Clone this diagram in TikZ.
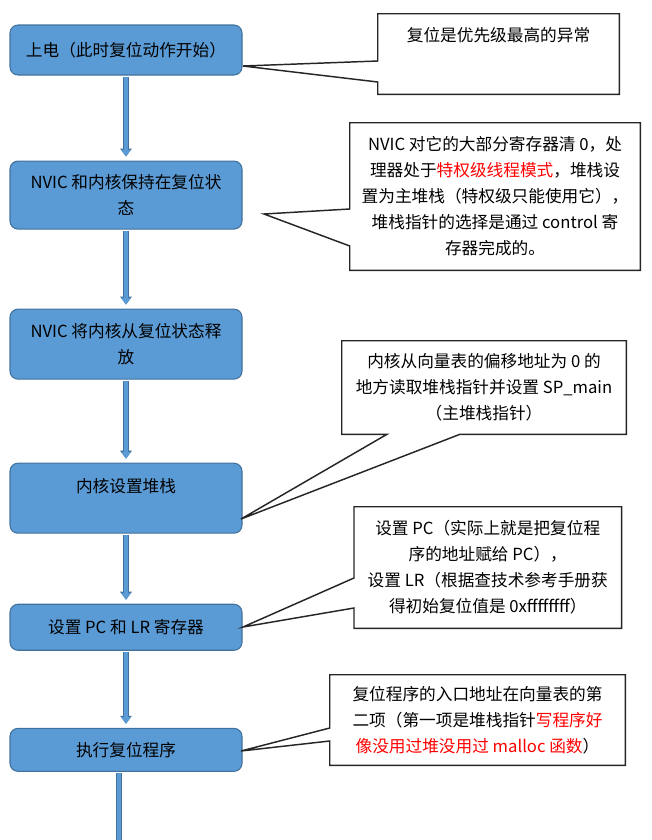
\documentclass[tikz,border=0pt]{standalone}
\usepackage{fontspec}
\setmainfont{Noto Sans CJK SC}
\usetikzlibrary{
  arrows.meta,
  calc,
  positioning
}
\definecolor{boxfill}{HTML}{5B9BD5}
\definecolor{boxedge}{HTML}{41719C}

\begin{document}
\begin{tikzpicture}[
  x=0.75pt, y=-0.75pt,
  font=\fontsize{12.5}{19.5}\selectfont,
  stage/.style={draw=boxedge, fill=boxfill, line width=0.8pt, rounded corners=6pt, align=center, minimum width=174pt},
  note/.style={align=center, inner sep=0pt},
  pointer/.style={draw=black!85, line width=1.1pt, line join=miter},
  flow/.style={draw=boxfill, line width=2.4pt, shorten <=1pt, shorten >=3pt, -{Triangle[length=5pt,width=7pt]},
    preaction={draw=boxedge, line width=3.9pt, shorten <=1pt, shorten >=3pt, -{Triangle[length=6pt,width=8.5pt]}}}
]
\useasboundingbox (0,0) rectangle (652,840);

\node[stage, minimum height=37.5pt] (power) at (126,50) {上电（此时复位动作开始）};
\node[stage, minimum height=51pt, below=63.75pt of power] (hold) {NVIC 和内核保持在复位状\\态};
\node[stage, minimum height=52.5pt, below=59.25pt of hold] (release) {NVIC 将内核从复位状态释\\放};
\node[stage, minimum height=52.5pt, below=62.25pt of release] (stack) {内核设置堆栈\\\mbox{}};
\node[stage, minimum height=34.5pt, below=52.5pt of stack] (regs) {设置 PC 和 LR 寄存器};
\node[stage, minimum height=32.25pt, below=57.75pt of regs] (run) {执行复位程序};
\coordinate (exit) at (119,880);

\draw[flow] (power) -- (hold);
\draw[flow] (hold) -- (release);
\draw[flow] (release) -- (stack);
\draw[flow] (stack) -- (regs);
\draw[flow] (regs) -- (run);
\draw[flow] (run.south -| exit) -- (exit);

\node[note, minimum width=180.75pt, minimum height=60pt, text depth=29.5pt] (prio) at (498.5,54) {复位是优先级最高的异常};
\node[note, minimum width=217.5pt, minimum height=110.25pt] (clear) at (495,196.5)
  {NVIC 对它的大部分寄存器清 0，处\\理器处于\textcolor{red}{特权级线程模式}，堆栈设\\置为主堆栈（特权级只能使用它），\\堆栈指针的选择是通过 control 寄\\存器完成的。};
\node[note, minimum width=213pt, minimum height=69.75pt] (sp) at (484,387.5)
  {内核从向量表的偏移地址为 0 的\\地方读取堆栈指针并设置 SP\_main\\（主堆栈指针）};
\node[note, minimum width=200.25pt, minimum height=90.75pt] (pclr) at (487.75,567.5)
  {设置 PC（实际上就是把复位程\\序的地址赋给 PC），\\设置 LR（根据查技术参考手册获\\得初始复位值是 0xffffffff）};
\node[note, minimum width=221.25pt, minimum height=67.5pt] (entry) at (477.5,720)
  {复位程序的入口地址在向量表的第\\二项（第一项是堆栈指针\textcolor{red}{写程序好}\\\textcolor{red}{像没用过堆没用过 malloc 函数}）};

\coordinate (prio-tip) at (243,66);
\coordinate (clear-tip) at (264,214);
\coordinate (sp-tip) at (241,519);
\coordinate (pclr-tip) at (243,627);
\coordinate (entry-tip) at (241,751);

\draw[pointer] (prio.west |- 0,61) -- (prio.north west) -- (prio.north east) -- (prio.south east) -- (prio.south west) -- (prio.west |- 0,82) -- (prio-tip) -- cycle;
\draw[pointer] (clear.west |- 0,209) -- (clear.north west) -- (clear.north east) -- (clear.south east) -- (clear.south west) -- (clear.west |- 0,246) -- (clear-tip) -- cycle;
\draw[pointer] (sp.south -| 387,0) -- (sp.south west) -- (sp.north west) -- (sp.north east) -- (sp.south east) -- (sp.south -| 460,0) -- (sp-tip) -- cycle;
\draw[pointer] (pclr.west |- 0,578) -- (pclr.north west) -- (pclr.north east) -- (pclr.south east) -- (pclr.south west) -- (pclr.west |- 0,608) -- (pclr-tip) -- cycle;
\draw[pointer] (entry.west |- 0,728) -- (entry.north west) -- (entry.north east) -- (entry.south east) -- (entry.south west) -- (entry.west |- 0,741) -- (entry-tip) -- cycle;
\end{tikzpicture}
\end{document}
